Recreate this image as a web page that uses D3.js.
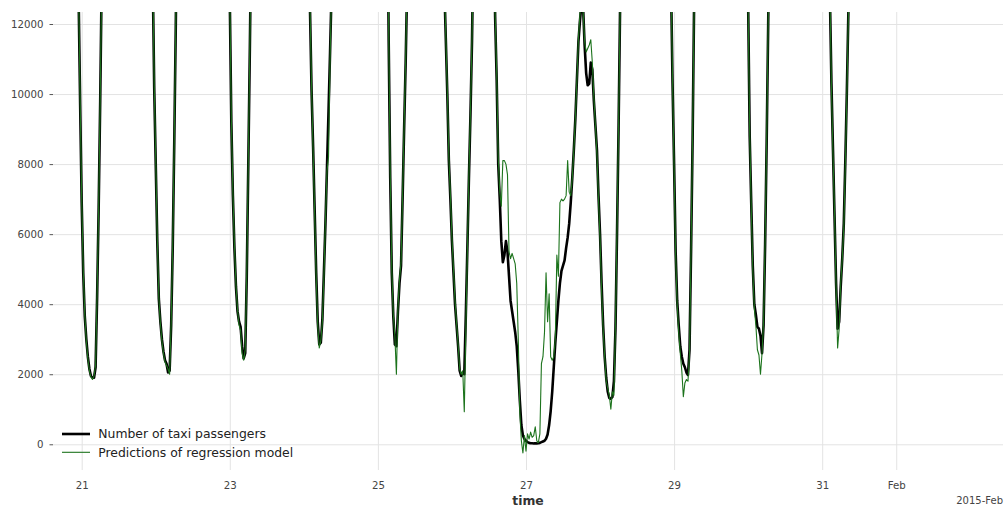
<!DOCTYPE html>
<html>
<head>
<meta charset="utf-8">
<script src="https://cdn.jsdelivr.net/npm/d3@7"></script>
<style>
  html, body { margin: 0; padding: 0; background: #ffffff; }
  svg { display: block; font-family: "DejaVu Sans", sans-serif; }
</style>
</head>
<body>
<svg id="chart" width="1006" height="509"></svg>
<script>
// Half-hourly passenger counts, starting 2015-01-20 15:00 (UTC), one row block per day
const firstStamp = Date.UTC(2015, 0, 20, 15, 0);
const stepMinutes = 30;

const passengers = [
  // Jan 20, 15:00-23:30
  21500, 21000, 19500, 20000, 22500, 25000, 27000, 28000, 28500, 27500, 26500, 25500,
  24500, 23000, 20500, 16500, 12800, 9700,
  // Jan 21
  6900, 4900, 3650, 3000, 2500, 2150, 1950, 1900, 1900, 2200, 4200, 6750,
  9800, 13400, 17200, 20800, 23200, 23800, 22600, 21300, 20100, 19600, 19700, 20300,
  21400, 21800, 21200, 21000, 21600, 22100, 21300, 20200, 18800, 19600, 22400, 25300,
  27800, 29300, 29600, 28700, 27400, 26300, 25600, 24800, 22900, 19800, 13500, 10200,
  // Jan 22
  8000, 5800, 4150, 3500, 3000, 2650, 2400, 2300, 2050, 2100, 3400, 5600,
  8600, 12000, 16000, 20200, 23000, 23900, 22800, 21500, 20300, 19800, 19900, 20600,
  21700, 22000, 21500, 21300, 21900, 22400, 21600, 20500, 19100, 20000, 22900, 25800,
  28300, 29900, 30400, 29600, 28400, 27500, 27000, 26600, 25500, 23200, 19400, 15600,
  // Jan 23
  12700, 9200, 7100, 5600, 4500, 3800, 3500, 3350, 2800, 2450, 2600, 4800,
  8000, 11300, 15000, 19000, 22000, 23200, 22400, 21200, 20200, 19900, 20100, 20900,
  22000, 22400, 21900, 21800, 22500, 23100, 22500, 21600, 20400, 21400, 24100, 26600,
  28500, 29600, 29900, 29400, 28600, 28200, 28400, 28800, 28900, 28300, 27200, 25900,
  // Jan 24
  24700, 23400, 21600, 17000, 12400, 10100, 8500, 6700, 4900, 3500, 2850, 2900,
  3550, 4900, 6300, 7900, 9500, 11200, 13000, 14700, 16600, 18300, 19800, 21000,
  22100, 22900, 23300, 23600, 23900, 24100, 24000, 23800, 23300, 23200, 23700, 24400,
  25200, 26000, 26500, 26400, 26100, 26300, 26900, 27600, 28300, 28400, 27800, 26800,
  // Jan 25
  26000, 25200, 24500, 23600, 22000, 19800, 16500, 11500, 7600, 4900, 3650, 2850,
  2800, 3800, 4600, 5100, 7000, 9000, 10900, 13200, 15600, 17700, 19400, 20700,
  21600, 22200, 22400, 22500, 22600, 22400, 22000, 21600, 21200, 20900, 20800, 20700,
  20500, 20100, 19700, 19300, 18500, 17300, 15100, 13200, 11600, 10000, 8100, 7000,
  // Jan 26
  5800, 4900, 4000, 3400, 2800, 2100, 1950, 2050, 2000, 3700, 5600, 7600,
  9400, 11500, 14500, 18000, 21000, 22400, 21900, 20900, 19900, 19400, 19300, 19500,
  19900, 19700, 18200, 15300, 12200, 10400, 8000, 7000, 5800, 5200, 5400, 5800,
  5500, 4800, 4100, 3800, 3500, 3200, 2800, 2100, 1250, 550, 250, 150,
  // Jan 27
  100, 60, 40, 30, 30, 25, 25, 25, 30, 40, 60, 80,
  100, 160, 280, 550, 950, 1500, 2200, 2900, 3500, 4100, 4600, 4950,
  5100, 5250, 5600, 5900, 6300, 6900, 7600, 8400, 9300, 10400, 11500, 12100,
  12600, 12500, 11400, 10600, 10250, 10300, 10900, 10700, 9800, 9100, 8400, 7100,
  // Jan 28
  6000, 4600, 3400, 2500, 1900, 1500, 1320, 1300, 1350, 1800, 3300, 6000,
  9000, 12500, 16200, 20000, 22800, 23700, 22700, 21400, 20200, 19700, 19800, 20500,
  21600, 22000, 21400, 21200, 21800, 22300, 21500, 20400, 19000, 19900, 22700, 25600,
  28100, 29600, 30000, 29100, 27800, 26700, 26000, 25200, 23300, 19800, 13200, 10300,
  // Jan 29
  8000, 5500, 4100, 3400, 2800, 2500, 2300, 2200, 2050, 1980, 2700, 5500,
  8700, 12700, 16500, 20300, 23000, 23800, 22800, 21500, 20300, 19900, 20000, 20700,
  21800, 22200, 21700, 21500, 22100, 22600, 21800, 20700, 19300, 20200, 23100, 26000,
  28600, 30200, 30600, 29800, 28600, 27800, 27300, 26900, 25800, 23300, 19400, 15400,
  // Jan 30
  12600, 8800, 6900, 5100, 4000, 3700, 3350, 3300, 3100, 2600, 3400, 5700,
  8600, 12000, 15600, 19500, 22300, 23400, 22500, 21300, 20300, 20000, 20200, 21000,
  22100, 22500, 22000, 21900, 22600, 23200, 22600, 21700, 20500, 21500, 24200, 26800,
  28700, 29800, 30100, 29600, 28800, 28400, 28600, 29000, 29200, 28600, 27500, 26200,
  // Jan 31
  25000, 23800, 22000, 19500, 16500, 12800, 10300, 8400, 6500, 4600, 3300, 3500,
  4500, 5300, 6300, 8100, 10100, 12400, 14500, 16400, 18200, 19800, 21100, 22200,
  23000, 23600, 23900, 24100, 24300, 24500, 24400, 24100, 23700, 23500, 24000, 24700,
  25500, 26300, 26800, 26700, 26300, 26500, 27100, 27800, 28500, 28700, 28200, 27300
];

const predictions = [
  // Jan 20, 15:00-23:30
  21000, 21400, 19900, 19700, 22100, 24600, 26800, 28200, 28300, 27800, 26700, 25100,
  24200, 22600, 20200, 16800, 12900, 9800,
  // Jan 21
  7000, 5000, 3700, 2950, 2450, 2100, 1920, 1850, 1950, 2250, 4300, 6800,
  9900, 13300, 17000, 20400, 22900, 23500, 22800, 21600, 20400, 19900, 19800, 20100,
  21000, 21500, 21400, 21300, 21800, 22300, 21600, 20500, 19300, 19800, 22100, 24900,
  27500, 29000, 29400, 28900, 27600, 26500, 25400, 24500, 22600, 19500, 13700, 10300,
  // Jan 22
  8100, 5900, 4200, 3450, 2950, 2600, 2350, 2250, 2150, 2000, 3500, 5700,
  8700, 12100, 15800, 19900, 22700, 23600, 22900, 21800, 20600, 20000, 19800, 20400,
  21400, 21800, 21600, 21500, 22000, 22500, 21800, 20800, 19500, 20100, 22600, 25400,
  28000, 29600, 30100, 29700, 28600, 27700, 27100, 26400, 25200, 22900, 19200, 15800,
  // Jan 23
  12800, 9300, 7200, 5700, 4550, 3850, 3400, 3250, 2600, 2400, 2700, 4900,
  8100, 11400, 14800, 18700, 21700, 23000, 22600, 21400, 20500, 20100, 20000, 20700,
  21700, 22200, 22000, 21900, 22300, 22900, 22700, 21900, 20700, 21200, 23800, 26300,
  28300, 29400, 29800, 29500, 28800, 28300, 28200, 28600, 28800, 28400, 27400, 26100,
  // Jan 24
  24900, 23600, 21800, 17200, 12500, 10200, 8400, 6600, 4800, 3400, 2750, 2950,
  3500, 4800, 6400, 7800, 8200, 11000, 13100, 14900, 16800, 18500, 19900, 21200,
  22300, 23100, 23500, 23700, 24000, 24300, 24200, 23900, 23500, 23100, 23500, 24100,
  24900, 25800, 26400, 26500, 26200, 26200, 26700, 27400, 28000, 28300, 27900, 27000,
  // Jan 25
  26200, 25400, 24600, 23800, 22300, 20100, 16800, 11800, 7700, 5000, 3700, 3100,
  2000, 3900, 4700, 5200, 7100, 9100, 11000, 13300, 15400, 17500, 19200, 20500,
  21400, 22000, 22300, 22400, 22500, 22500, 22200, 21800, 21400, 21100, 20900, 20800,
  20600, 20300, 19900, 19500, 18700, 17500, 15300, 13400, 11700, 10100, 8200, 7100,
  // Jan 26
  5900, 5000, 4100, 3450, 2850, 2150, 2000, 2100, 930, 3300, 5500, 7700,
  9500, 11600, 14300, 17800, 20800, 22200, 22000, 21100, 20100, 19500, 19400, 19700,
  20200, 20100, 18600, 15500, 12300, 10600, 8200, 7200, 6800, 8100, 8100, 8000,
  7700, 5500, 5300, 5450, 5300, 5150, 4600, 3000, 900, 100, -250, 250,
  // Jan 27
  -200, 300, 150, 350, 200, 250, 500, 100, 50, 300, 2300, 2500,
  3200, 4900, 3500, 4300, 2500, 2400, 2500, 3000, 5400, 4800, 6900, 7000,
  6950, 7000, 7100, 8100, 7200, 7100, 7600, 8400, 9300, 10400, 11600, 12300,
  12700, 12400, 11500, 11200, 11300, 11400, 11550, 10900, 9900, 9100, 8300, 7000,
  // Jan 28
  5900, 4400, 3300, 2500, 1800, 1600, 1400, 1000, 1500, 1400, 3400, 6100,
  9100, 12400, 15900, 19600, 22500, 23500, 22900, 21700, 20500, 19900, 19700, 20200,
  21200, 21700, 21600, 21400, 21900, 22400, 21800, 20700, 19400, 19900, 22400, 25200,
  27800, 29400, 29800, 29300, 28000, 26900, 25900, 25000, 23000, 19600, 13400, 10400,
  // Jan 29
  7900, 5400, 4000, 3200, 2600, 2100, 1360, 1750, 1850, 1800, 2600, 5600,
  8800, 12600, 16300, 20000, 22700, 23600, 23000, 21700, 20500, 20000, 19900, 20500,
  21500, 22000, 21900, 21700, 22200, 22700, 22100, 21000, 19700, 20200, 22800, 25600,
  28300, 29900, 30400, 29900, 28800, 27900, 27200, 26700, 25500, 23100, 19300, 15600,
  // Jan 30
  12500, 8900, 6800, 5000, 3900, 3400, 2700, 2550, 2000, 2600, 3500, 5800,
  8700, 12100, 15400, 19200, 22000, 23200, 22700, 21600, 20500, 20100, 20100, 20800,
  21800, 22300, 22100, 22000, 22500, 23000, 22800, 22000, 20800, 21300, 23900, 26400,
  28500, 29600, 30000, 29700, 29000, 28500, 28400, 28800, 29000, 28700, 27700, 26400,
  // Jan 31
  25200, 24000, 22300, 19800, 16800, 12900, 10200, 8300, 6600, 4500, 2750, 3300,
  4600, 5300, 6200, 8000, 10000, 12300, 14300, 16200, 18000, 19600, 20900, 22000,
  22800, 23400, 23800, 24000, 24200, 24300, 24300, 24100, 23800, 23600, 23900, 24500,
  25300, 26100, 26700, 26800, 26500, 26400, 26900, 27600, 28300, 28600, 28300, 27500
];

// Axis ticks
const yTickValues = [0, 2000, 4000, 6000, 8000, 10000, 12000];
const xTickDates = [
  Date.UTC(2015, 0, 21), Date.UTC(2015, 0, 23), Date.UTC(2015, 0, 25),
  Date.UTC(2015, 0, 27), Date.UTC(2015, 0, 29), Date.UTC(2015, 0, 31),
  Date.UTC(2015, 1, 1)
];
const xTickLabels = ["21", "23", "25", "27", "29", "31", "Feb"];
const seriesLabels = ["Number of taxi passengers", "Predictions of regression model"];
const offsetLabel = "2015-Feb";
const xAxisTitle = "time";

// Visible window
const xDomain = [Date.UTC(2015, 0, 20, 14, 42), Date.UTC(2015, 1, 2, 10, 36)];
const yDomain = [-734, 12343];

const W = 1006, H = 509;
const plot = { left: 53, right: 1003, top: 12, bottom: 470 };

const svg = d3.select("#chart");
svg.append("rect").attr("width", W).attr("height", H).attr("fill", "#ffffff");

const x = d3.scaleUtc().domain(xDomain).range([plot.left, plot.right]);
const y = d3.scaleLinear().domain(yDomain).range([plot.bottom, plot.top]);

const times = passengers.map((_, i) => new Date(firstStamp + i * stepMinutes * 60000));

const gridColor = "#e3e3e3";
const tickText = "#444444";

// Horizontal grid
svg.append("g")
  .attr("transform", `translate(${plot.left},0)`)
  .call(d3.axisLeft(y).tickValues(yTickValues).tickSize(-(plot.right - plot.left)).tickFormat(""))
  .call(g => g.select(".domain").remove())
  .call(g => g.selectAll("line").attr("stroke", gridColor).attr("stroke-width", 1));

// Vertical grid
svg.append("g")
  .attr("transform", `translate(0,${plot.bottom})`)
  .call(d3.axisBottom(x).tickValues(xTickDates.map(d => new Date(d))).tickSize(-(plot.bottom - plot.top)).tickFormat(""))
  .call(g => g.select(".domain").remove())
  .call(g => g.selectAll("line").attr("stroke", gridColor).attr("stroke-width", 1));

// Y axis labels
svg.append("g")
  .attr("transform", `translate(${plot.left},0)`)
  .call(d3.axisLeft(y).tickValues(yTickValues).tickSize(3.5).tickPadding(6).tickFormat(d3.format("d")))
  .call(g => g.select(".domain").remove())
  .call(g => g.selectAll("line").attr("stroke", "#555555").attr("stroke-width", 1))
  .call(g => g.selectAll("text").attr("fill", tickText).style("font-size", "10.2px")
    .style("font-family", "'DejaVu Sans', sans-serif"));

// X axis labels
svg.append("g")
  .attr("transform", `translate(0,${plot.bottom})`)
  .call(d3.axisBottom(x).tickValues(xTickDates.map(d => new Date(d))).tickSize(0).tickPadding(12)
    .tickFormat((d, i) => xTickLabels[i]))
  .call(g => g.select(".domain").remove())
  .call(g => g.selectAll("text").attr("fill", tickText).style("font-size", "10.2px")
    .style("font-family", "'DejaVu Sans', sans-serif"));

// Offset label and axis title
svg.append("text")
  .attr("x", plot.right).attr("y", 504)
  .attr("text-anchor", "end")
  .attr("fill", tickText)
  .style("font-size", "10px")
  .text(offsetLabel);

svg.append("text")
  .attr("x", (plot.left + plot.right) / 2).attr("y", 505)
  .attr("text-anchor", "middle")
  .attr("fill", "#333333")
  .style("font-size", "12.4px")
  .style("font-weight", "bold")
  .text(xAxisTitle);

// Series
svg.append("clipPath").attr("id", "plot-clip")
  .append("rect")
  .attr("x", plot.left).attr("y", plot.top)
  .attr("width", plot.right - plot.left).attr("height", plot.bottom - plot.top);

const line = d3.line()
  .x((d, i) => x(times[i]))
  .y(d => y(d));

const series = [
  { name: seriesLabels[0], values: passengers, color: "#000000", width: 2.6 },
  { name: seriesLabels[1], values: predictions, color: "#1c731c", width: 1.1 }
];

const lines = svg.append("g").attr("clip-path", "url(#plot-clip)");
series.forEach(s => {
  lines.append("path")
    .datum(s.values)
    .attr("fill", "none")
    .attr("stroke", s.color)
    .attr("stroke-width", s.width)
    .attr("stroke-linejoin", "round")
    .attr("d", line);
});

// Legend
const legend = svg.append("g").attr("transform", "translate(62,434)");
series.forEach((s, i) => {
  const row = legend.append("g").attr("transform", `translate(0,${i * 18.3})`);
  row.append("line")
    .attr("x1", 0).attr("x2", 28).attr("y1", 0).attr("y2", 0)
    .attr("stroke", s.color).attr("stroke-width", s.width);
  row.append("text")
    .attr("x", 36.3).attr("y", 0).attr("dy", "0.36em")
    .attr("fill", "#222222")
    .style("font-size", "12.4px")
    .text(s.name);
});
</script>
</body>
</html>
